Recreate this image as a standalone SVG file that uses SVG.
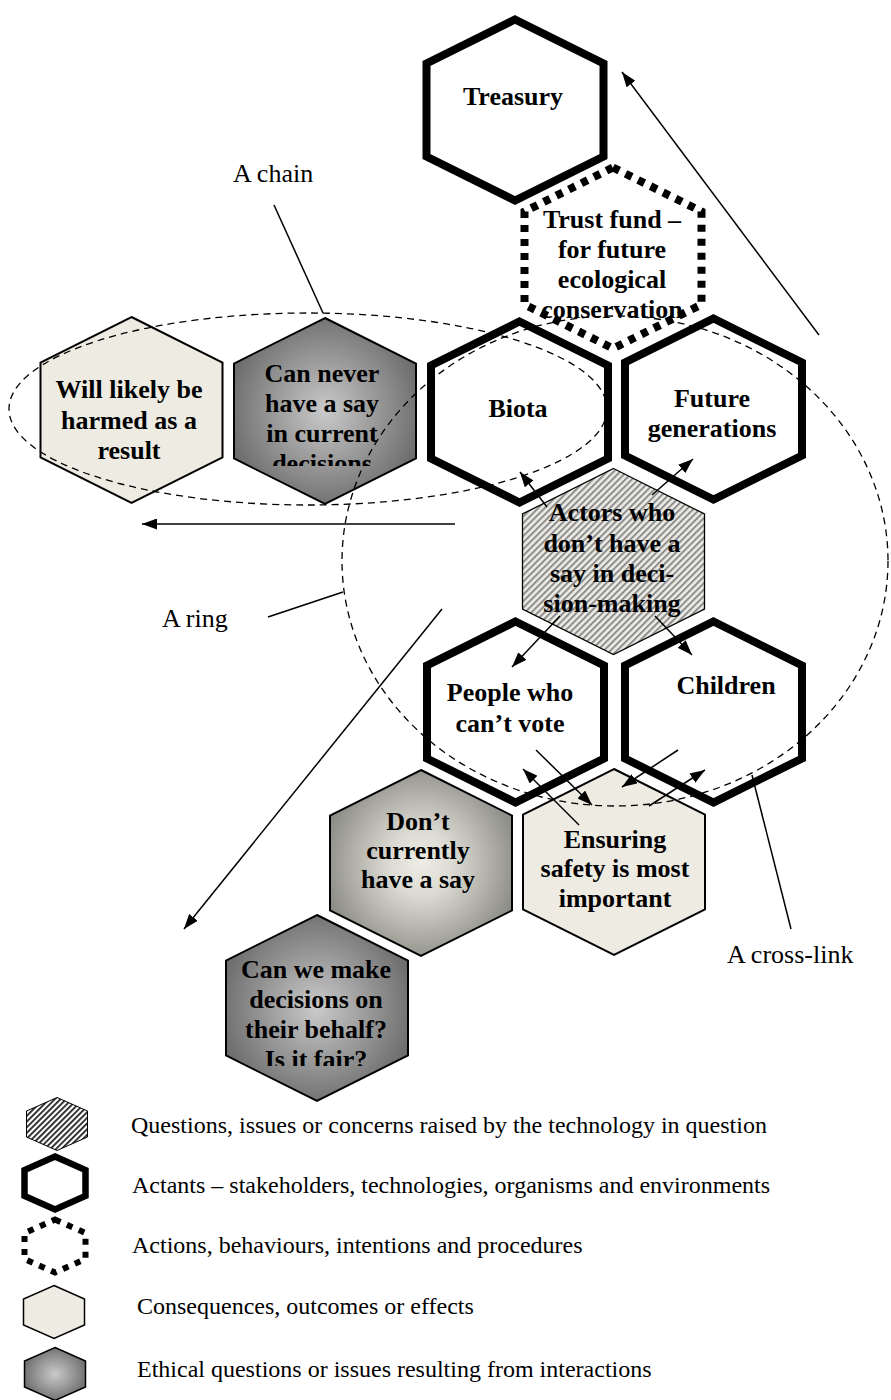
<svg xmlns="http://www.w3.org/2000/svg" xmlns:xlink="http://www.w3.org/1999/xlink" width="891" height="1400" viewBox="0 0 891 1400">
  <defs>
    <style>
      .thick { fill: #fff; stroke: #000; stroke-width: 8; stroke-linejoin: miter; }
      .dotted { fill: #fff; stroke: #000; stroke-width: 8; stroke-dasharray: 7 7; }
      .thin { stroke: #000; stroke-width: 2; stroke-linejoin: miter; }
      .hatch { fill: url(#hatchGrey); stroke: #000; stroke-width: 1.3; }
      .conseq { fill: #edebe2; }
      .ethical { fill: url(#gEthical); }
      .ethical-light { fill: url(#gEthicalLight); }
      .lbl { font-family: "Liberation Serif", "Times New Roman", serif; font-weight: bold; font-size: 26px; text-anchor: middle; fill: #000; }
      .note { font-family: "Liberation Serif", "Times New Roman", serif; font-size: 26px; fill: #000; }
      .legend-text { font-family: "Liberation Serif", "Times New Roman", serif; font-size: 24px; fill: #000; }
      .conn line { stroke: #000; stroke-width: 1.5; fill: none; }
      .conn .arrow { marker-end: url(#arrowHead); }
      .loop { fill: none; stroke: #000; stroke-width: 1.3; stroke-dasharray: 7 5; }
    </style>

    <!-- hexagon outlines (pointy top) -->
    <polygon id="hexThick" points="0,-90.5 88.5,-46.5 88.5,46.5 0,90.5 -88.5,46.5 -88.5,-46.5"/>
    <polygon id="hexThin" points="0,-93 91,-47.5 91,47.5 0,93 -91,47.5 -91,-47.5"/>
    <polygon id="hexSmall" points="0,-26.5 30.5,-13 30.5,13 0,26.5 -30.5,13 -30.5,-13"/>

    <pattern id="hatchGrey" width="4.6" height="4.6" patternUnits="userSpaceOnUse" patternTransform="rotate(45)">
      <rect width="4.6" height="4.6" fill="#ecebe5"/>
      <rect width="2" height="4.6" fill="#8e8e8e"/>
    </pattern>
    <pattern id="hatchDark" width="4" height="4" patternUnits="userSpaceOnUse" patternTransform="rotate(45)">
      <rect width="4" height="4" fill="#fff"/>
      <rect width="1.8" height="4" fill="#222"/>
    </pattern>

    <radialGradient id="gEthical" cx="50%" cy="50%" r="58%">
      <stop offset="0" stop-color="#cacaca"/>
      <stop offset="1" stop-color="#666"/>
    </radialGradient>
    <radialGradient id="gEthicalLight" cx="50%" cy="50%" r="58%">
      <stop offset="0" stop-color="#eeede5"/>
      <stop offset="0.3" stop-color="#dcdbd3"/>
      <stop offset="1" stop-color="#84847e"/>
    </radialGradient>

    <marker id="arrowHead" viewBox="0 0 15 11" refX="15" refY="5.5" markerWidth="15" markerHeight="11" markerUnits="userSpaceOnUse" orient="auto">
      <path d="M0,0 L15,5.5 L0,11 z" fill="#000"/>
    </marker>

    <clipPath id="clipCanNever">
      <rect x="225" y="300" width="200" height="166"/>
    </clipPath>
    <clipPath id="clipCanWe">
      <rect x="215" y="900" width="205" height="166"/>
    </clipPath>
  </defs>

  <rect width="891" height="1400" fill="#fff"/>

  <!-- nodes -->
  <g id="treasury">
    <use xlink:href="#hexThick" x="515" y="110" class="thick"/>
    <text class="lbl" x="513" y="105">Treasury</text>
  </g>

  <g id="biota">
    <use xlink:href="#hexThick" x="519.5" y="412" class="thick"/>
    <text class="lbl" x="518" y="417">Biota</text>
  </g>

  <g id="future-generations">
    <use xlink:href="#hexThick" x="713.5" y="409" class="thick"/>
    <text class="lbl" x="712"><tspan x="712" y="407">Future</tspan><tspan x="712" y="437">generations</tspan></text>
  </g>

  <g id="trust-fund">
    <use xlink:href="#hexThick" x="613" y="258" class="dotted"/>
    <text class="lbl"><tspan x="612" y="228">Trust fund –</tspan><tspan x="612" y="258">for future</tspan><tspan x="612" y="288">ecological</tspan><tspan x="612" y="318">conservation</tspan></text>
  </g>

  <g id="will-likely-be-harmed">
    <use xlink:href="#hexThin" x="131.5" y="410" class="thin conseq"/>
    <text class="lbl"><tspan x="129" y="398">Will likely be</tspan><tspan x="129" y="429">harmed as a</tspan><tspan x="129" y="459">result</tspan></text>
  </g>

  <g id="can-never-have-a-say">
    <use xlink:href="#hexThin" x="325" y="411" class="thin ethical"/>
    <text class="lbl" clip-path="url(#clipCanNever)"><tspan x="322" y="382">Can never</tspan><tspan x="322" y="412">have a say</tspan><tspan x="322" y="442">in current</tspan><tspan x="322" y="472">decisions</tspan></text>
  </g>

  <g id="actors">
    <use xlink:href="#hexThin" x="613.5" y="561.5" class="hatch"/>
    <text class="lbl"><tspan x="612" y="521">Actors who</tspan><tspan x="612" y="552">don’t have a</tspan><tspan x="612" y="582">say in deci-</tspan><tspan x="612" y="612">sion-making</tspan></text>
  </g>

  <g id="people-who-cant-vote">
    <use xlink:href="#hexThick" x="515.5" y="712" class="thick"/>
    <text class="lbl"><tspan x="510" y="701">People who</tspan><tspan x="510" y="732">can’t vote</tspan></text>
  </g>

  <g id="children">
    <use xlink:href="#hexThick" x="713.5" y="712" class="thick"/>
    <text class="lbl" x="726" y="694">Children</text>
  </g>

  <g id="ensuring-safety">
    <use xlink:href="#hexThin" x="614" y="862" class="thin conseq"/>
    <text class="lbl"><tspan x="615" y="848">Ensuring</tspan><tspan x="615" y="877">safety is most</tspan><tspan x="615" y="907">important</tspan></text>
  </g>

  <g id="dont-currently-have-a-say">
    <use xlink:href="#hexThin" x="421" y="863" class="thin ethical-light"/>
    <text class="lbl"><tspan x="418" y="830">Don’t</tspan><tspan x="418" y="859">currently</tspan><tspan x="418" y="888">have a say</tspan></text>
  </g>

  <g id="decisions-on-their-behalf">
    <use xlink:href="#hexThin" x="317" y="1008" class="thin ethical"/>
    <text class="lbl" clip-path="url(#clipCanWe)"><tspan x="316" y="978">Can we make</tspan><tspan x="316" y="1008">decisions on</tspan><tspan x="316" y="1038">their behalf?</tspan><tspan x="316" y="1068">Is it fair?</tspan></text>
  </g>

  <!-- connectors: dashed loops, leader lines and arrows -->
  <g id="connectors" class="conn">
    <ellipse class="loop" cx="308" cy="409" rx="299" ry="96"/>
    <ellipse class="loop" cx="615" cy="561" rx="273" ry="245"/>

    <line x1="274" y1="205" x2="323" y2="313"/>
    <line x1="268" y1="617" x2="343" y2="592"/>
    <line x1="752" y1="775" x2="791" y2="929"/>

    <line class="arrow" x1="819" y1="335" x2="622" y2="72"/>
    <line class="arrow" x1="455" y1="524" x2="142" y2="524"/>
    <line class="arrow" x1="442" y1="609" x2="184" y2="929"/>
    <line class="arrow" x1="547" y1="507" x2="520" y2="472"/>
    <line class="arrow" x1="652" y1="495" x2="693" y2="459"/>
    <line class="arrow" x1="560" y1="616" x2="512" y2="667"/>
    <line class="arrow" x1="655" y1="616" x2="692" y2="655"/>
    <line class="arrow" x1="536" y1="750" x2="592" y2="805"/>
    <line class="arrow" x1="579" y1="825" x2="523" y2="769"/>
    <line class="arrow" x1="678" y1="750" x2="622" y2="787"/>
    <line class="arrow" x1="649" y1="806" x2="705" y2="770"/>
  </g>

  <!-- loop and link captions -->
  <g id="captions">
    <text class="note" x="233" y="182">A chain</text>
    <text class="note" x="162" y="627">A ring</text>
    <text class="note" x="727" y="963">A cross-link</text>
  </g>

  <!-- key -->
  <g id="legend">
    <use xlink:href="#hexSmall" x="57" y="1124" fill="url(#hatchDark)" stroke="#000" stroke-width="1"/>
    <text class="legend-text" x="131" y="1133">Questions, issues or concerns raised by the technology in question</text>

    <use xlink:href="#hexSmall" x="55" y="1183" fill="#fff" stroke="#000" stroke-width="6.5"/>
    <text class="legend-text" x="132" y="1193">Actants – stakeholders, technologies, organisms and environments</text>

    <use xlink:href="#hexSmall" x="55" y="1246" fill="#fff" stroke="#000" stroke-width="6" stroke-dasharray="6 7"/>
    <text class="legend-text" x="132" y="1253">Actions, behaviours, intentions and procedures</text>

    <use xlink:href="#hexSmall" x="54" y="1312" class="conseq" stroke="#000" stroke-width="1.5"/>
    <text class="legend-text" x="137" y="1314">Consequences, outcomes or effects</text>

    <use xlink:href="#hexSmall" x="55" y="1374" class="ethical" stroke="#000" stroke-width="1.5"/>
    <text class="legend-text" x="137" y="1377">Ethical questions or issues resulting from interactions</text>
  </g>
</svg>
